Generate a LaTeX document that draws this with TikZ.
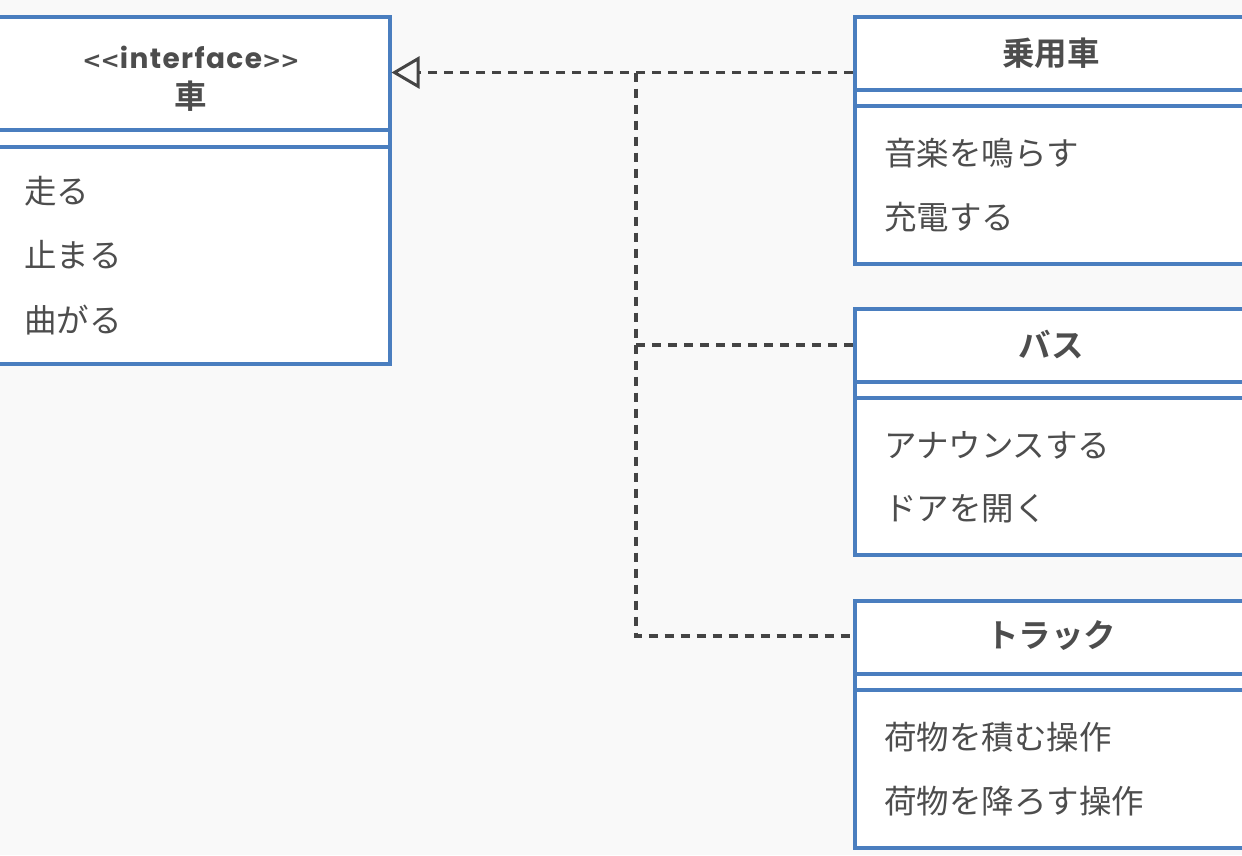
\documentclass[tikz,border=0pt]{standalone}
\usepackage{fontspec}
\setmainfont{Noto Sans CJK JP}[BoldFont={Noto Sans CJK JP Bold}]
\newfontfamily\latinf{Poppins}[LetterSpace=5]
\newfontfamily\bracketf{DejaVu Sans Bold}
\usetikzlibrary{arrows.meta}
\definecolor{bg}{HTML}{F9F9F9}
\definecolor{umlblue}{HTML}{4A7EBF}
\definecolor{ink}{HTML}{4D4D4D}
\definecolor{edgec}{HTML}{444444}
\begin{document}
\begin{tikzpicture}[x=1pt,y=-1pt,
  classbox/.style={draw=umlblue, line width=3.5pt, fill=white, rectangle, inner sep=0pt, anchor=north west, minimum width=394pt},
  sepline/.style={draw=umlblue, line width=3.5pt},
  titletext/.style={font=\fontsize{32.5}{38}\selectfont\bfseries, text=ink, inner sep=0pt},
  stereo/.style={font=\latinf\fontsize{28}{32}\selectfont\bfseries, text=ink, inner sep=0pt},
  methtext/.style={font=\fontsize{32.5}{38}\selectfont, text=ink, anchor=west, inner sep=0pt},
  realize/.style={draw=edgec, line width=3.5pt, dash pattern=on 9pt off 7pt},
]
\useasboundingbox (0,0) rectangle (1242,855);
\clip (0,0) rectangle (1242,855);
\fill[bg] (0,0) rectangle (1242,855);

% interface box
\node[classbox, minimum height=347pt] (itf) at (-6,15) {};
\draw[sepline] (-6,130) -- (388,130);
\draw[sepline] (-6,147) -- (388,147);
\node[stereo] (itfS) at (191,57) {{\bracketf\fontsize{23}{26}\selectfont<\kern-1pt<}interface{\bracketf\fontsize{23}{26}\selectfont>\kern-1pt>}};
\node[titletext] (itfT) at (191,96) {車};
\coordinate (itfC) at (191,72.5);
\node[methtext] (m1) at (24,191) {走る};
\node[methtext] (m2) at (24,255) {止まる};
\node[methtext] (m3) at (24,320) {曲がる};

% class 1
\node[classbox, minimum height=247pt] (c1) at (853,15) {};
\draw[sepline] (853,90) -- (1247,90);
\draw[sepline] (853,106) -- (1247,106);
\node[titletext] (c1T) at (1051,53) {乗用車};
\node[methtext] (c1a) at (884,153) {音楽を鳴らす};
\node[methtext] (c1b) at (884,217) {充電する};

% class 2
\node[classbox, minimum height=246pt] (c2) at (853,307) {};
\draw[sepline] (853,382) -- (1247,382);
\draw[sepline] (853,398) -- (1247,398);
\node[titletext] (c2T) at (1051,345) {バス};
\node[methtext] (c2a) at (884,445) {アナウンスする};
\node[methtext] (c2b) at (884,509) {ドアを開く};

% class 3
\node[classbox, minimum height=247pt] (c3) at (853,599) {};
\draw[sepline] (853,674) -- (1247,674);
\draw[sepline] (853,690) -- (1247,690);
\node[titletext] (c3T) at (1051,636) {トラック};
\node[methtext] (c3a) at (884,737) {荷物を積む操作};
\node[methtext] (c3b) at (884,801) {荷物を降ろす操作};

% realization connectors
\coordinate (j) at (636,72.5);
\draw[realize, -{Triangle[open, length=28pt, width=32pt, line width=3pt, sep=0pt]}]
  (itfC -| c1.west) -- (itfC -| itf.east);
\draw[realize] (j) -- (j |- c3T) -- (c3T -| c3.west);
\draw[realize] (j |- c2T) -- (c2T -| c2.west);
\end{tikzpicture}
\end{document}
